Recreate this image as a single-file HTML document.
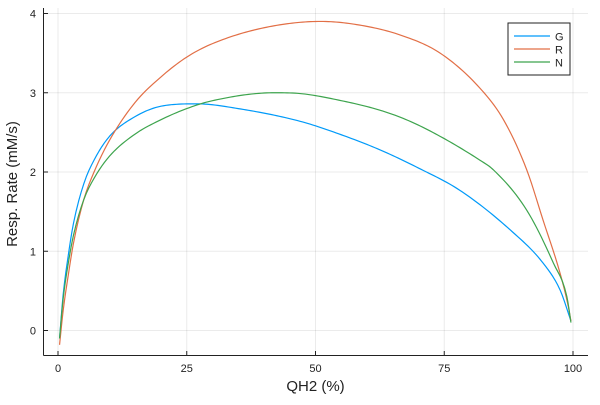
<!DOCTYPE html>
<html><head><meta charset="utf-8"><style>
body{margin:0;background:#fff}
svg text{font-family:"Liberation Sans",sans-serif;fill:#222}
</style></head><body>
<svg id="chart" width="600" height="400" xmlns="http://www.w3.org/2000/svg">
<g id="grid"></g>
<g id="axes"></g>
<g id="series"></g>
<text x="315.5" y="391" text-anchor="middle" font-size="15">QH2 (%)</text>
<text transform="translate(17,184) rotate(-90)" text-anchor="middle" font-size="15">Resp. Rate (mM/s)</text>
<g>
<rect x="508" y="23" width="62" height="52" fill="#fff" stroke="#222" stroke-width="1"/>
<line x1="514" y1="36" x2="550" y2="36" stroke="#009af9" stroke-width="1.2"/><text x="555" y="40.5" font-size="11">G</text>
<line x1="514" y1="49" x2="550" y2="49" stroke="#e26f46" stroke-width="1.2"/><text x="555" y="53.5" font-size="11">R</text>
<line x1="514" y1="62" x2="550" y2="62" stroke="#3da44d" stroke-width="1.2"/><text x="555" y="66.5" font-size="11">N</text>
</g>
</svg>
<script>
const xTicks=[0,25,50,75,100];
const yTicks=[0,1,2,3,4];
const gX=[0.3,1,2,3,5,7,10,15,20,27,35,47,55,62.5,70,78,87.8,94.2,97.5,99.6];
const gY=[-0.1,0.45,0.95,1.35,1.85,2.15,2.45,2.7,2.83,2.86,2.8,2.64,2.47,2.28,2.05,1.77,1.27,0.85,0.51,0.12];
const rX=[0.3,1,2,3,5,7,10,15,20,25,30,40,51,58,66.4,74.2,81.9,86.5,91,94.2,97.5,99.1,99.6];
const rY=[-0.18,0.25,0.7,1.1,1.65,2.0,2.4,2.88,3.2,3.45,3.62,3.82,3.9,3.86,3.73,3.5,3.06,2.66,2.03,1.39,0.72,0.3,0.12];
const nX=[0.3,1,2,3,5,7,10,15,20,25,30,42,47,55,62.5,68,74.2,81.9,84.5,91,96.2,98.8,99.6];
const nY=[-0.1,0.4,0.85,1.2,1.65,1.92,2.2,2.48,2.66,2.8,2.9,3.0,2.99,2.9,2.78,2.65,2.45,2.15,2.03,1.52,0.85,0.43,0.1];
const NS="http://www.w3.org/2000/svg";
const sx=v=>58+v*5.15, sy=v=>330.5-v*79.25;
const grid=document.getElementById('grid'), axes=document.getElementById('axes'), ser=document.getElementById('series');
function mk(tag,attrs,parent){const e=document.createElementNS(NS,tag);for(const k in attrs)e.setAttribute(k,attrs[k]);parent.appendChild(e);return e;}
xTicks.forEach(t=>{
 const l=mk('line',{x1:sx(t),x2:sx(t),y1:8,y2:355.5,stroke:'#000','stroke-opacity':0.08},grid);
 
 
 mk('line',{x1:sx(t),x2:sx(t),y1:355.5,y2:351,stroke:'#222'},axes);
 const tx=mk('text',{x:sx(t),y:372,'text-anchor':'middle','font-size':11},axes);tx.textContent=t;
 
 
});
yTicks.forEach(t=>{
 const l=mk('line',{x1:43.5,x2:588,y1:sy(t),y2:sy(t),stroke:'#000','stroke-opacity':0.08},grid);
 
 
 mk('line',{x1:43.5,x2:48,y1:sy(t),y2:sy(t),stroke:'#222'},axes);
 const tx=mk('text',{x:36,y:sy(t)+4,'text-anchor':'end','font-size':11},axes);tx.textContent=t;
 
 
});
mk('line',{x1:43.5,x2:43.5,y1:8,y2:355.5,stroke:'#222'},axes);
mk('line',{x1:43.5,x2:588,y1:355.5,y2:355.5,stroke:'#222'},axes);
// Fritsch-Carlson monotone cubic interpolation in data space
function interp(xs,ys){
 const n=xs.length,d=[],m=new Array(n);
 for(let i=0;i<n-1;i++)d.push((ys[i+1]-ys[i])/(xs[i+1]-xs[i]));
 m[0]=d[0];m[n-1]=d[n-2];
 for(let i=1;i<n-1;i++)m[i]=(d[i-1]*d[i]<=0)?0:(d[i-1]+d[i])/2;
 for(let i=0;i<n-1;i++){
  if(d[i]===0){m[i]=0;m[i+1]=0;continue;}
  const a=m[i]/d[i],b=m[i+1]/d[i],s=a*a+b*b;
  if(s>9){const t=3/Math.sqrt(s);m[i]=t*a*d[i];m[i+1]=t*b*d[i];}
 }
 const pts=[];
 for(let i=0;i<n-1;i++){
  const h=xs[i+1]-xs[i],steps=Math.max(4,Math.ceil(h*2));
  for(let k=0;k<steps;k++){
   const t=k/steps,t2=t*t,t3=t2*t;
   const y=(2*t3-3*t2+1)*ys[i]+(t3-2*t2+t)*h*m[i]+(-2*t3+3*t2)*ys[i+1]+(t3-t2)*h*m[i+1];
   pts.push(sx(xs[i]+t*h).toFixed(2)+','+sy(y).toFixed(2));
  }
 }
 pts.push(sx(xs[n-1]).toFixed(2)+','+sy(ys[n-1]).toFixed(2));
 return pts.join(' ');
}
[[gX,gY,'#009af9','series-g'],[rX,rY,'#e26f46','series-r'],[nX,nY,'#3da44d','series-n']].forEach(s=>{
 const e=mk('polyline',{points:interp(s[0],s[1]),fill:'none',stroke:s[2],'stroke-width':1.2,'stroke-linejoin':'round'},ser);
 
 
});
</script>
</body></html>
